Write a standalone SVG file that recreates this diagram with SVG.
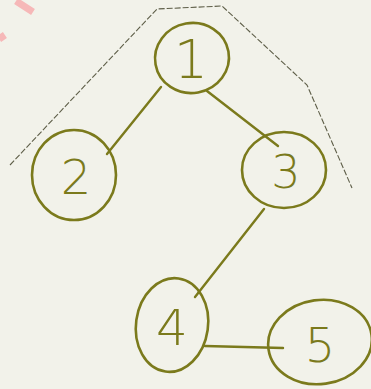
<svg xmlns="http://www.w3.org/2000/svg" width="371" height="389" viewBox="0 0 371 389">
<style>
.n{fill:none;stroke:#7b7a1c;stroke-width:2.6;stroke-linecap:round}
.e{fill:none;stroke:#7b7a1c;stroke-width:2.4;stroke-linecap:round}
.t{fill:#7b7a1c;font-family:"DejaVu Sans","Liberation Sans",sans-serif;font-weight:200;text-anchor:middle}
</style>
<rect width="371" height="389" fill="#f2f2ea"/>
<path d="M16,1 L33,12 M0,34 L4,40" stroke="#f6b8b8" stroke-width="7" fill="none"/>
<path d="M10,165 L157,9 L222,6 L307,85 L352,188" fill="none" stroke="#5e5e48" stroke-width="1.1" stroke-dasharray="6,2"/>
<g id="connectors">
<path class="e" d="M161,87 L107,154"/>
<path class="e" d="M207,91 L278,146"/>
<path class="e" d="M264,209 L195,297"/>
<path class="e" d="M205,346 L283,348"/>
</g>
<g id="node1">
<ellipse class="n" cx="192" cy="58" rx="37" ry="35" transform="rotate(-10 192 58)"/>
<text class="t" x="191" y="78" font-size="54">1</text>
</g>
<g id="node2">
<ellipse class="n" cx="74" cy="175" rx="42" ry="45"/>
<text class="t" x="76" y="194" font-size="48">2</text>
</g>
<g id="node3">
<ellipse class="n" cx="284" cy="170" rx="42" ry="38"/>
<text class="t" x="286" y="188" font-size="46">3</text>
</g>
<g id="node4">
<ellipse class="n" cx="172" cy="325" rx="36" ry="47" transform="rotate(8 172 325)"/>
<text class="t" x="172" y="345" font-size="50">4</text>
</g>
<g id="node5">
<ellipse class="n" cx="320" cy="342" rx="52" ry="42" transform="rotate(-8 320 342)"/>
<text class="t" x="320" y="362" font-size="48">5</text>
</g>
</svg>
